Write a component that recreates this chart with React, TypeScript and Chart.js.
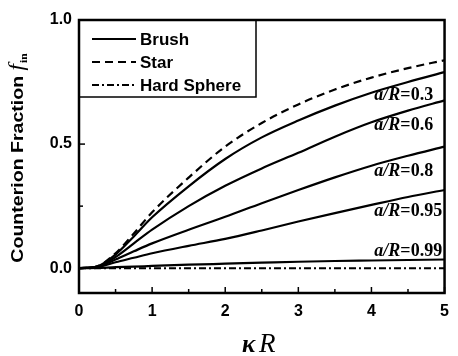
import { useEffect, useRef } from 'react';
import { Chart, registerables } from 'chart.js';

Chart.register(...registerables);

// kappa*R sample positions
const kappaR = [0, 0.25, 0.5, 0.75, 1, 1.5, 2, 2.5, 3, 3.5, 4, 4.5, 5];
// counterion fraction f_in
const star = [0, 0.008, 0.06, 0.14, 0.225, 0.365, 0.49, 0.585, 0.66, 0.72, 0.768, 0.806, 0.838];
const brush03 = [0, 0.007, 0.055, 0.128, 0.205, 0.33, 0.44, 0.527, 0.595, 0.655, 0.707, 0.75, 0.79];
const brush06 = [0, 0.006, 0.045, 0.1, 0.155, 0.25, 0.332, 0.402, 0.465, 0.53, 0.588, 0.635, 0.676];
const brush08 = [0, 0.005, 0.035, 0.068, 0.1, 0.155, 0.207, 0.262, 0.315, 0.366, 0.413, 0.453, 0.49];
const brush095 = [0, 0.004, 0.024, 0.042, 0.06, 0.09, 0.118, 0.152, 0.188, 0.222, 0.255, 0.287, 0.315];
const brush099 = [0, 0.001, 0.004, 0.006, 0.009, 0.014, 0.018, 0.022, 0.026, 0.029, 0.031, 0.033, 0.035];
const hardSphere = [0, 0, 0, 0, 0, 0, 0, 0, 0, 0, 0, 0, 0];

const legendLabels = ['Brush', 'Star', 'Hard Sphere'];
const curveLabels = ['0.3', '0.6', '0.8', '0.95', '0.99'];
const curveLabelY = [0.676, 0.555, 0.372, 0.21, 0.049];
const curveLabelX = 4.04;

const xTicks = [0, 0.5, 1, 1.5, 2, 2.5, 3, 3.5, 4, 4.5, 5];
const yTicks = [0, 0.25, 0.5, 0.75, 1.0];

const pts = (ys: number[]) => kappaR.map((x, i) => ({ x, y: ys[i] }));

const SANS = '"Liberation Sans", Arial, sans-serif';
const SERIF = '"Liberation Serif", "Times New Roman", serif';

const decorPlugin = {
  id: 'decor',
  afterDatasetsDraw(chart: any) {
    const { ctx, chartArea: ca, scales } = chart;
    const xs = scales.x;
    const ys = scales.y;
    ctx.save();
    // curve labels (left aligned)
    ctx.fillStyle = '#000';
    ctx.textBaseline = 'alphabetic';
    curveLabels.forEach((t, i) => {
      const x0 = xs.getPixelForValue(curveLabelX);
      const base = ys.getPixelForValue(curveLabelY[i]);
      ctx.font = `bold italic 18px ${SERIF}`;
      const a = 'a/R';
      const wa = ctx.measureText(a).width;
      ctx.fillText(a, x0, base);
      ctx.font = `bold 18px ${SERIF}`;
      ctx.fillText('=' + t, x0 + wa, base);
    });
    // ticks (inward)
    ctx.strokeStyle = '#000';
    ctx.lineWidth = 1.5;
    xTicks.forEach((v) => {
      const px = xs.getPixelForValue(v);
      const len = Number.isInteger(v) ? 6 : 4;
      ctx.beginPath();
      ctx.moveTo(px, ca.bottom);
      ctx.lineTo(px, ca.bottom - len);
      ctx.stroke();
    });
    yTicks.forEach((v) => {
      const py = ys.getPixelForValue(v);
      const len = Math.abs(v * 2 - Math.round(v * 2)) < 1e-9 ? 6 : 4;
      ctx.beginPath();
      ctx.moveTo(ca.left, py);
      ctx.lineTo(ca.left + len, py);
      ctx.stroke();
    });
    // legend box
    const lx = ca.left;
    const ly = ca.top;
    const lw = 177;
    const lh = 77;
    ctx.fillStyle = '#fff';
    ctx.fillRect(lx, ly, lw, lh);
    ctx.lineWidth = 1.5;
    ctx.strokeRect(lx, ly, lw, lh);
    const dsets = chart.data.datasets;
    const legendSrc = [dsets[0], dsets[1], dsets[6]];
    legendLabels.forEach((t, i) => {
      const yy = ly + 19 + i * 23;
      const d = legendSrc[i];
      ctx.setLineDash(d.borderDash || []);
      ctx.lineWidth = 2;
      ctx.beginPath();
      ctx.moveTo(lx + 13, yy);
      ctx.lineTo(lx + 57, yy);
      ctx.stroke();
      ctx.setLineDash([]);
      ctx.fillStyle = '#000';
      ctx.font = `bold 17px ${SANS}`;
      ctx.textBaseline = 'middle';
      ctx.fillText(t, lx + 61, yy + 1);
    });
    // frame
    ctx.lineWidth = 2.5;
    ctx.strokeRect(ca.left, ca.top, ca.right - ca.left, ca.bottom - ca.top);
    ctx.restore();
  },
  afterDraw(chart: any) {
    const { ctx } = chart;
    ctx.save();
    ctx.fillStyle = '#000';
    // y title
    ctx.translate(23, 158);
    ctx.rotate(-Math.PI / 2);
    ctx.scale(1.15, 1);
    ctx.textBaseline = 'alphabetic';
    const p1 = 'Counterion Fraction ';
    ctx.font = `bold 17px ${SANS}`;
    const w1 = ctx.measureText(p1).width;
    ctx.font = `italic 20px ${SERIF}`;
    const w2 = ctx.measureText('f').width;
    ctx.font = `bold 10px ${SERIF}`;
    const w3 = ctx.measureText('in').width;
    let x = -(w1 + w2 + 1 + w3) / 2;
    ctx.font = `bold 17px ${SANS}`;
    ctx.fillText(p1, x, 0);
    x += w1;
    ctx.font = `italic 20px ${SERIF}`;
    ctx.fillText('f', x, 0);
    x += w2 + 1;
    ctx.font = `bold 10px ${SERIF}`;
    ctx.fillText('in', x, 4);
    ctx.restore();
    // x title
    ctx.save();
    ctx.fillStyle = '#000';
    ctx.textBaseline = 'alphabetic';
    ctx.font = `bold italic 25px ${SERIF}`;
    ctx.fillText('\u03BA', 242, 352);
    ctx.font = `italic 27px ${SERIF}`;
    ctx.fillText('R', 259, 352);
    ctx.restore();
  },
};

export default function App() {
  const ref = useRef<HTMLCanvasElement>(null);
  useEffect(() => {
    document.body.style.margin = '0';
    const solid = (data: number[]) => ({
      data: pts(data),
      borderColor: '#000',
      borderWidth: 2.2,
      pointRadius: 0,
      fill: false,
      cubicInterpolationMode: 'monotone' as const,
    });
    const chart = new Chart(ref.current!, {
      type: 'line',
      data: {
        datasets: [
          { ...solid(brush03), label: 'Brush a/R=0.3' },
          { ...solid(star), label: 'Star', borderDash: [8, 5] },
          { ...solid(brush06), label: 'Brush a/R=0.6' },
          { ...solid(brush08), label: 'Brush a/R=0.8' },
          { ...solid(brush095), label: 'Brush a/R=0.95' },
          { ...solid(brush099), label: 'Brush a/R=0.99' },
          { ...solid(hardSphere), label: 'Hard Sphere', borderDash: [7, 3, 2, 3], borderWidth: 2 },
        ],
      },
      options: {
        responsive: false,
        animation: false,
        layout: { padding: { top: 20, right: 5, left: 0, bottom: 0 } },
        plugins: { legend: { display: false }, tooltip: { enabled: false } },
        scales: {
          x: {
            type: 'linear',
            min: 0,
            max: 5,
            afterFit: (s: any) => { s.height = 63; },
            afterBuildTicks: (s: any) => { s.ticks = xTicks.map((v) => ({ value: v })); },
            grid: { display: false, drawTicks: false },
            border: { display: false },
            ticks: {
              padding: 9,
              color: '#000',
              font: { family: SANS, size: 16, weight: 'bold' },
              autoSkip: false,
              maxRotation: 0,
              callback: (v: any) => (Number.isInteger(v) ? String(v) : ''),
            },
          },
          y: {
            type: 'linear',
            min: -0.1,
            max: 1.0,
            afterFit: (s: any) => { s.width = 79; },
            afterBuildTicks: (s: any) => { s.ticks = yTicks.map((v) => ({ value: v })); },
            grid: { display: false, drawTicks: false },
            border: { display: false },
            ticks: {
              padding: 7,
              color: '#000',
              font: { family: SANS, size: 16, weight: 'bold' },
              autoSkip: false,
              callback: (v: any) => (Math.abs(v * 2 - Math.round(v * 2)) < 1e-9 ? Number(v).toFixed(1) : ''),
            },
          },
        },
      },
      plugins: [decorPlugin],
    });
    return () => chart.destroy();
  }, []);
  return <canvas ref={ref} width={458} height={356} style={{ display: 'block' }} />;
}
